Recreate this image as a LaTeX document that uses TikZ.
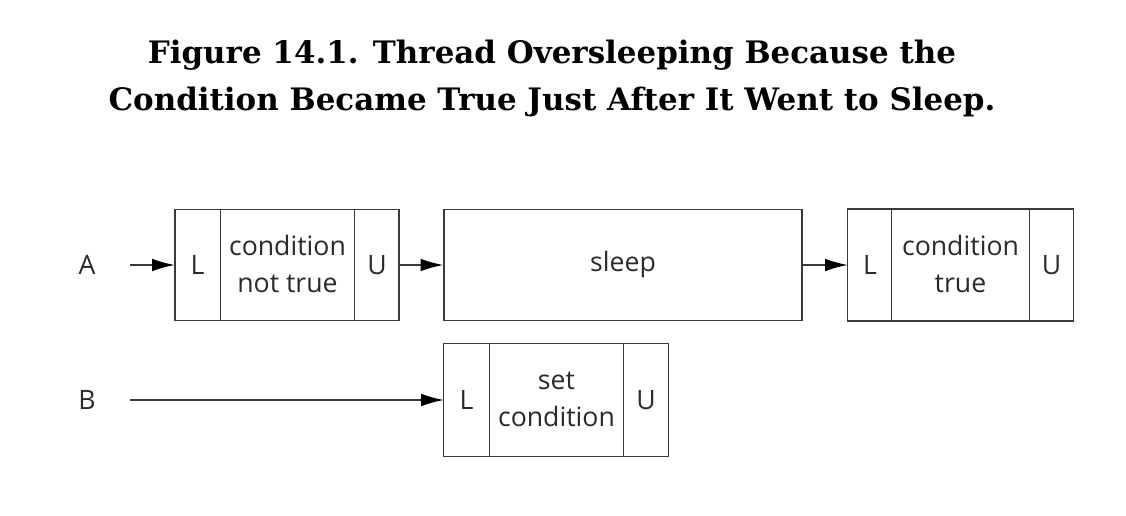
\documentclass[tikz,border=0pt]{standalone}
\usepackage{fontspec}
\setmainfont{DejaVu Serif}
\setsansfont{Open Sans}
\usetikzlibrary{arrows.meta}
\definecolor{ln}{HTML}{3A3A3A}
\definecolor{tx}{HTML}{2A2A2A}
\begin{document}
\begin{tikzpicture}[x=0.75pt,y=-0.75pt,
  box/.style={draw=ln,line width=1.1pt,fill=none},
  sep/.style={draw=ln,line width=1.1pt},
  lab/.style={font=\sffamily\fontsize{20}{27.8}\selectfont,text=tx,align=center,inner sep=0pt},
  conn/.style={draw=ln,line width=1.1pt,-{Latex[length=17pt,width=9.5pt,color=black]}},
  ttl/.style={font=\bfseries\fontsize{23.2}{28}\selectfont,inner sep=0pt,anchor=base}]
\useasboundingbox (0,0) rectangle (1126,516);
% title
\node[ttl] (t1) at (552,64) {Figure 14.1. Thread Oversleeping Because the};
\node[ttl] (t2) at (552,111) {Condition Became True Just After It Went to Sleep.};
% row A
\node[lab] (A) at (87,265) {A};
\coordinate (Astart) at (130,265);
\draw[box] (175,209.5) rectangle (399,320.5);
\node[inner sep=0pt,minimum width=224*0.75pt,minimum height=111*0.75pt] (b1) at (287,265) {};
\draw[sep] (220.5,209.5) -- (220.5,320.5) (354.5,209.5) -- (354.5,320.5);
\node[lab] (b1L) at (197.5,265) {L};
\node[lab] (b1M) at (287.5,264) {condition\\not true};
\node[lab] (b1U) at (377,265) {U};
\node[box,inner sep=0pt,minimum width=358*0.75pt,minimum height=111*0.75pt] (sl) at (623,265) {};
\node[lab] at (623,265) {sleep};
\node[inner sep=0pt,minimum width=225*0.75pt,minimum height=111*0.75pt] (b3) at (960.5,265) {};
\draw[box] (b3.south west) rectangle (b3.north east);
\draw[sep] (891.5,209.5) -- (891.5,320.5) (1029.5,209.5) -- (1029.5,320.5);
\node[lab] (b3L) at (870,265) {L};
\node[lab] (b3M) at (960.5,264) {condition\\true};
\node[lab] (b3U) at (1051.5,265) {U};
\draw[conn] (Astart) -- (b1.west);
\draw[conn] (b1.east) -- (sl.west);
\draw[conn] (sl.east) -- (b3.west);
% row B
\node[lab] (B) at (87,400) {B};
\coordinate (Bstart) at (130,400);
\node[inner sep=0pt,minimum width=224*0.75pt,minimum height=112*0.75pt] (b4) at (556,400) {};
\draw[box] (b4.south west) rectangle (b4.north east);
\draw[sep] (489.5,344) -- (489.5,456) (623.5,344) -- (623.5,456);
\node[lab] (b4L) at (466.5,400) {L};
\node[lab] (b4M) at (556.5,399) {set\\condition};
\node[lab] (b4U) at (646,400) {U};
\draw[conn] (Bstart) -- (b4.west);
\end{tikzpicture}
\end{document}
